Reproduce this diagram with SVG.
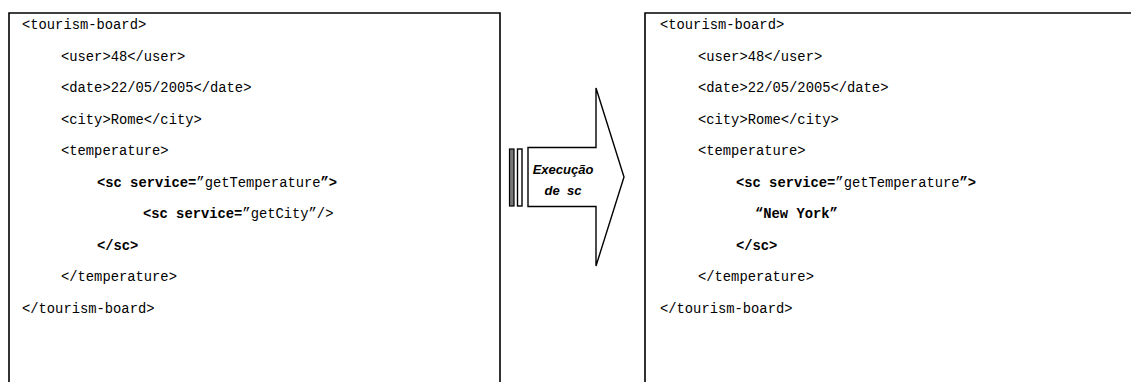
<svg xmlns="http://www.w3.org/2000/svg" width="1131" height="382" viewBox="0 0 1131 382">
  <style>
    .frame { fill: none; stroke: #000; stroke-width: 1.6; }
    .code { font-family: "Liberation Mono", "Courier New", monospace; font-size: 13.8px; fill: #000; }
    .b { font-weight: bold; }
    .label { font-family: "Liberation Sans", Arial, sans-serif; font-size: 13px; font-weight: bold; font-style: italic; fill: #000; text-anchor: middle; }
    .arrow { fill: #fff; stroke: #000; stroke-width: 1.4; }
    .bar-dark { fill: #777; stroke: #000; stroke-width: 1.2; }
  </style>
  <rect width="1131" height="382" fill="#fff"/>

  <!-- XML document before execution -->
  <g id="doc-before">
    <path class="frame" d="M9,382 V13 H500 V382"/>
    <text class="code" x="22" y="29">&lt;tourism-board&gt;</text>
    <text class="code" x="61" y="60.5">&lt;user&gt;48&lt;/user&gt;</text>
    <text class="code" x="61" y="92">&lt;date&gt;22/05/2005&lt;/date&gt;</text>
    <text class="code" x="61" y="123.5">&lt;city&gt;Rome&lt;/city&gt;</text>
    <text class="code" x="61" y="155">&lt;temperature&gt;</text>
    <text class="code" x="97" y="186.5"><tspan class="b">&lt;sc service=</tspan>”getTemperature<tspan class="b">”&gt;</tspan></text>
    <text class="code" x="143" y="218"><tspan class="b">&lt;sc service=</tspan>”getCity”/&gt;</text>
    <text class="code b" x="97" y="249.5">&lt;/sc&gt;</text>
    <text class="code" x="61" y="281">&lt;/temperature&gt;</text>
    <text class="code" x="22" y="312.5">&lt;/tourism-board&gt;</text>
  </g>

  <!-- execution arrow -->
  <g id="execution-arrow">
    <rect class="bar-dark" x="509.5" y="149" width="4.5" height="57"/>
    <rect class="arrow" x="517.5" y="149" width="4.5" height="57"/>
    <path class="arrow" d="M528,147.5 H596 V88 L624,177 L596,266 V206.5 H528 Z"/>
    <text class="label" x="563" y="174">Execução</text>
    <text class="label" x="563" y="195" xml:space="preserve">de  sc</text>
  </g>

  <!-- XML document after execution -->
  <g id="doc-after">
    <path class="frame" d="M645,382 V13 H1131"/>
    <text class="code" x="660" y="29">&lt;tourism-board&gt;</text>
    <text class="code" x="698" y="60.5">&lt;user&gt;48&lt;/user&gt;</text>
    <text class="code" x="698" y="92">&lt;date&gt;22/05/2005&lt;/date&gt;</text>
    <text class="code" x="698" y="123.5">&lt;city&gt;Rome&lt;/city&gt;</text>
    <text class="code" x="698" y="155">&lt;temperature&gt;</text>
    <text class="code" x="736" y="186.5"><tspan class="b">&lt;sc service=</tspan>”getTemperature<tspan class="b">”&gt;</tspan></text>
    <text class="code b" x="755" y="218">“New York”</text>
    <text class="code b" x="736" y="249.5">&lt;/sc&gt;</text>
    <text class="code" x="698" y="281">&lt;/temperature&gt;</text>
    <text class="code" x="660" y="312.5">&lt;/tourism-board&gt;</text>
  </g>
</svg>
